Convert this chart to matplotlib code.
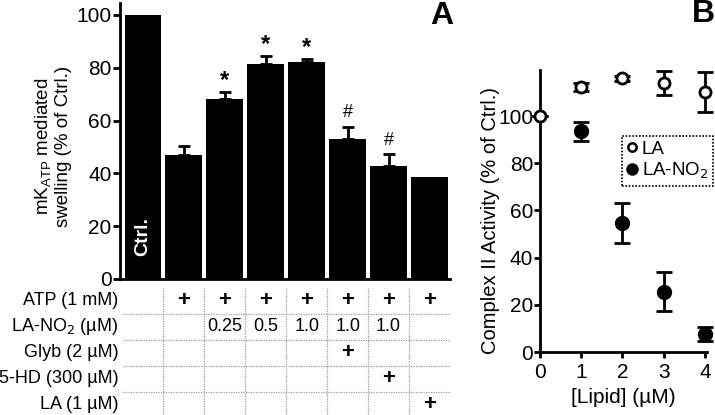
import matplotlib
matplotlib.use("Agg")
import matplotlib.pyplot as plt
from matplotlib.lines import Line2D
import numpy as np

plt.rcParams['font.family'] = ['Liberation Sans', 'DejaVu Sans']

# ---------------- data ----------------
# Panel A
bar_values = [100, 46.8, 68.0, 81.3, 82.1, 53.0, 42.9, 38.5]
bar_err_up = [0, 3.7, 2.8, 3.2, 1.2, 4.7, 4.3, 0]
bar_marks = ['', '', '*', '*', '*', '#', '#', '']
row_labels = ['ATP (1 mM)', 'LA-NO$_2$ (µM)', 'Glyb (2 µM)', '5-HD (300 µM)', 'LA (1 µM)']
table_cells = [
    ['', '+', '+', '+', '+', '+', '+', '+'],
    ['', '', '0.25', '0.5', '1.0', '1.0', '1.0', ''],
    ['', '', '', '', '', '+', '', ''],
    ['', '', '', '', '', '', '+', ''],
    ['', '', '', '', '', '', '', '+'],
]
a_yticks = [0, 20, 40, 60, 80, 100]

# Panel B
lipid_LA = [0, 1, 2, 3, 4]
LA_vals = [100, 112.3, 116.0, 114.0, 110.0]
LA_err = [0, 1.5, 1.0, 5.0, 8.5]
lipid_NO2 = [1, 2, 3, 4]
NO2_vals = [93.6, 54.6, 25.5, 7.5]
NO2_err = [4.0, 8.5, 8.3, 3.0]
b_xticks = [0, 1, 2, 3, 4]
b_yticks = [0, 20, 40, 60, 80, 100]

W, H = 715, 415
fig = plt.figure(figsize=(W / 100, H / 100), dpi=100)

def fx(px):
    return px / W

def fy(py):
    return 1 - py / H

# ---------------- Panel A ----------------
axA = fig.add_axes([fx(120), fy(279), fx(450) - fx(120), fy(3) - fy(279)])
x = np.arange(len(bar_values))
axA.bar(x, bar_values, width=0.9, color='black', zorder=2)
lower = np.zeros(len(bar_values))
mask = np.array(bar_err_up) > 0
axA.errorbar(x[mask], np.array(bar_values)[mask],
             yerr=[lower[mask], np.array(bar_err_up)[mask]],
             fmt='none', ecolor='black', elinewidth=2, capsize=4.5, capthick=2, zorder=3)
for xi, v, e, m in zip(x, bar_values, bar_err_up, bar_marks):
    if m == '*':
        axA.text(xi, v + e + 4.3, m, ha='center', va='center', fontsize=17, fontweight='bold')
    elif m == '#':
        axA.text(xi, v + e + 5.2, m, ha='center', va='center', fontsize=13)
axA.text(0, 16, 'Ctrl.', color='white', fontweight='bold', fontsize=14,
         rotation=90, ha='center', va='center', zorder=4)
axA.set_xlim(-0.56, 7.5)
axA.set_ylim(0, 104.5)
axA.set_yticks(a_yticks)
axA.set_xticks([])
for s in ['top', 'right']:
    axA.spines[s].set_visible(False)
for s in ['left', 'bottom']:
    axA.spines[s].set_linewidth(2)
axA.tick_params(axis='y', labelsize=15, width=2, length=5, pad=1, direction='out')
fig.text(fx(53), fy(146), 'mK$_{\\mathregular{ATP}}$ mediated\nswelling (% of Ctrl.)',
         rotation=90, ha='center', va='center', fontsize=13.5, linespacing=1.05)
fig.text(fx(442), fy(16), 'A', fontsize=23, fontweight='bold', ha='center', va='center')

# table under panel A
axT = fig.add_axes([fx(120), 0, fx(450) - fx(120), fy(288)])
axT.set_xlim(-0.56, 7.5)
axT.set_ylim(4.4, -0.5)
axT.axis('off')
nrows = len(row_labels)
for r in range(nrows - 1):
    axT.plot([-0.48, 7.5], [r + 0.5, r + 0.5], color='#9a9a9a', lw=0.9, ls=(0, (1, 1)))
for c in range(len(bar_values) - 1):
    axT.plot([c + 0.5, c + 0.5], [-0.5, 4.4], color='#9a9a9a', lw=0.9, ls=(0, (1, 1)))
for r, lab in enumerate(row_labels):
    axT.text(-0.6, r, lab, ha='right', va='center', fontsize=13, clip_on=False)
    for c, val in enumerate(table_cells[r]):
        if val == '+':
            axT.text(c, r, '+', ha='center', va='center', fontsize=16, fontweight='bold')
        elif val:
            axT.text(c, r, val, ha='center', va='center', fontsize=13)

# ---------------- Panel B ----------------
axB = fig.add_axes([fx(540), fy(352), fx(707) - fx(540), fy(70) - fy(352)])
axB.errorbar(lipid_NO2, NO2_vals, yerr=NO2_err, fmt='o', color='black', ms=10,
             elinewidth=2, capsize=5.5, capthick=2, zorder=3, clip_on=False)
axB.errorbar(lipid_LA, LA_vals, yerr=LA_err, fmt='o', color='black', mfc='white',
             mec='black', mew=2, ms=8, elinewidth=2, capsize=5.5, capthick=2, zorder=4,
             clip_on=False)
axB.set_xlim(0, 4.05)
axB.set_ylim(0, 119.5)
axB.set_xticks(b_xticks)
axB.set_yticks(b_yticks)
for s in ['top', 'right']:
    axB.spines[s].set_visible(False)
for s in ['left', 'bottom']:
    axB.spines[s].set_linewidth(2)
axB.tick_params(labelsize=15, width=2, length=4, direction='out')
axB.tick_params(axis='y', pad=1)
axB.tick_params(axis='x', pad=4)
axB.set_xlabel('[Lipid] (µM)', fontsize=15, labelpad=4)
fig.text(fx(491), fy(221), 'Complex II Activity (% of Ctrl.)', rotation=90,
         ha='center', va='center', fontsize=14.5)
fig.text(fx(703), fy(14), 'B', fontsize=23, fontweight='bold', ha='center', va='center')

handles = [Line2D([], [], ls='none', marker='o', mfc='white', mec='black', mew=1.8, ms=6),
           Line2D([], [], ls='none', marker='o', color='black', ms=8)]
leg = axB.legend(handles, ['LA', 'LA-NO$_2$'], loc='upper left',
                 bbox_to_anchor=(fx(622), fy(136)), bbox_transform=fig.transFigure,
                 borderaxespad=0, fontsize=13.5, handlelength=0.6, handletextpad=0.2,
                 borderpad=0.25, labelspacing=0.15, fancybox=False, framealpha=1)
fr = leg.get_frame()
fr.set_edgecolor('black')
fr.set_linestyle((0, (1, 1)))
fr.set_linewidth(1.2)

fig.savefig('out.png', dpi=100)
